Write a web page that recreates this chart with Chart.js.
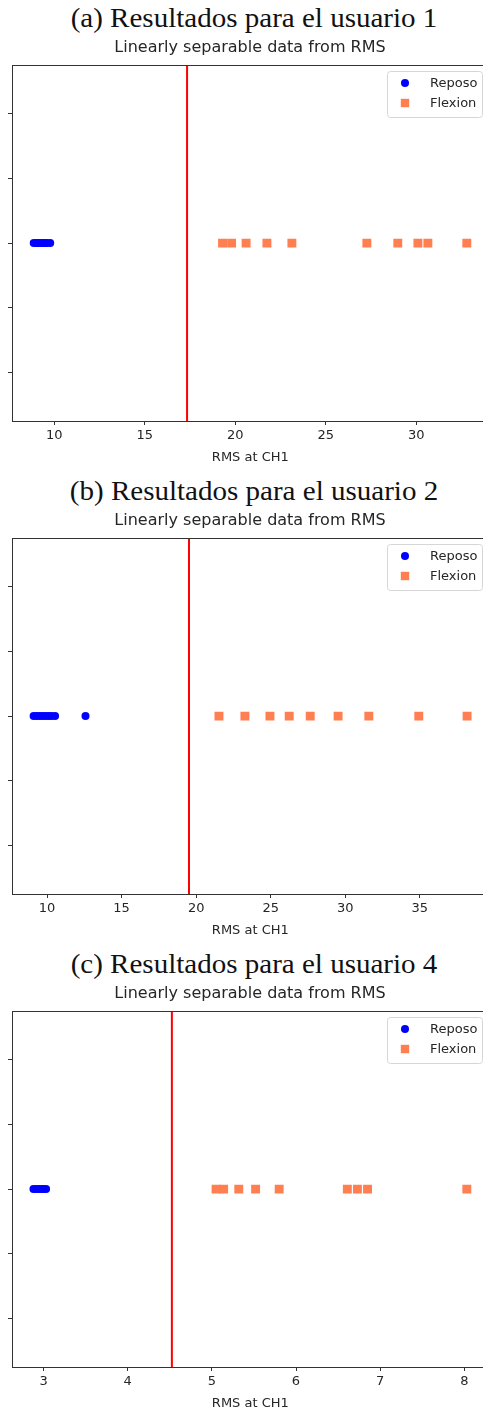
<!DOCTYPE html>
<html>
<head>
<meta charset="utf-8">
<script src="https://cdn.jsdelivr.net/npm/chart.js@4/dist/chart.umd.min.js"></script>
<style>
  html, body { margin: 0; padding: 0; background: #fff; overflow: hidden; width: 483px; height: 1411px; }
  .panel { position: absolute; left: 0; width: 483px; height: 473px; overflow: hidden; }
  .caption { position: absolute; left: 0; width: 508px; top: 3px; text-align: center;
    font-family: "Liberation Serif", serif; font-size: 27px; color: #111; line-height: 30px; white-space: nowrap;
    transform: scaleX(1.075); transform-origin: 254px 50%; }
  .wrap { position: absolute; left: 0; top: 30px; width: 483px; height: 443px; overflow: hidden; }
  canvas { display: block; }
</style>
</head>
<body>
<div class="panel" style="top:0px"><div class="caption">(a) Resultados para el usuario 1</div><div class="wrap" id="w1"></div></div>
<div class="panel" style="top:473px"><div class="caption">(b) Resultados para el usuario 2</div><div class="wrap" id="w2"></div></div>
<div class="panel" style="top:946px"><div class="caption">(c) Resultados para el usuario 4</div><div class="wrap" id="w3"></div></div>
<script>
// ---- Data ----
const plotTitle = "Linearly separable data from RMS";
const xLabel = "RMS at CH1";
const seriesNames = ["Reposo", "Flexion"];

// User 1
const reposo1 = [8.87, 9.0, 9.1, 9.2, 9.3, 9.4, 9.5, 9.6, 9.78];
const flexion1 = [19.3, 19.8, 20.6, 21.75, 23.13, 27.27, 28.98, 30.09, 30.64, 32.79];
const boundary1 = 17.34;
const xRange1 = [7.67, 34.0];
const xTicks1 = [10, 15, 20, 25, 30];

// User 2
const reposo2 = [9.1, 9.3, 9.5, 9.7, 9.9, 10.1, 10.3, 10.54, 12.58];
const flexion2 = [21.53, 23.27, 24.95, 26.24, 27.65, 29.52, 31.58, 34.93, 38.17];
const boundary2 = 19.52;
const xRange2 = [7.65, 39.62];
const xTicks2 = [10, 15, 20, 25, 30, 35];

// User 4
const reposo3 = [2.88, 2.91, 2.94, 2.97, 3.0, 3.03];
const flexion3 = [5.05, 5.14, 5.32, 5.52, 5.80, 6.61, 6.73, 6.85, 8.03];
const boundary3 = 4.525;
const xRange3 = [2.625, 8.29];
const xTicks3 = [3, 4, 5, 6, 7, 8];

const yRange = [-0.055, 0.055];
const yTicks = [-0.04, -0.02, 0, 0.02, 0.04];

// ---- Styles ----
const BLUE = '#0000ff';
const CORAL = '#ff7f50';
const SANS = '"DejaVu Sans", sans-serif';
const TXT = '#262626';
const SPINE = '#333333';
const AREA = { left: 12, right: 489, top: 35, bottom: 391 };
const CANVAS_H = 443;

const framePlugin = {
  id: 'frame',
  afterDatasetsDraw(chart) {
    const a = chart.chartArea, ctx = chart.ctx;
    ctx.save();
    ctx.strokeStyle = SPINE;
    ctx.lineWidth = 1;
    ctx.strokeRect(Math.round(a.left) + 0.5, Math.round(a.top) + 0.5, Math.round(a.right - a.left), Math.round(a.bottom - a.top));
    ctx.restore();
  },
  afterDraw(chart) {
    const a = chart.chartArea, ctx = chart.ctx;
    const w = 95, h = 46;
    const x0 = Math.round(a.right) - 7 - w, y0 = Math.round(a.top) + 6;
    ctx.save();
    ctx.beginPath();
    ctx.roundRect(x0 + 0.5, y0 + 0.5, w, h, 3);
    ctx.fillStyle = 'rgba(255,255,255,0.85)';
    ctx.fill();
    ctx.strokeStyle = '#d6d6d6';
    ctx.lineWidth = 1;
    ctx.stroke();
    const ds = chart.data.datasets.filter(d => d.inLegend);
    ds.forEach((d, i) => {
      const cy = y0 + 12 + i * 20, cx = x0 + 18;
      ctx.fillStyle = d.backgroundColor;
      ctx.beginPath();
      if (d.pointStyle === 'circle') { ctx.arc(cx, cy, 4, 0, Math.PI * 2); }
      else { ctx.rect(cx - 4.2, cy - 4.2, 8.4, 8.4); }
      ctx.fill();
      ctx.fillStyle = TXT;
      ctx.font = '13px ' + SANS;
      ctx.textBaseline = 'middle';
      ctx.textAlign = 'left';
      ctx.fillText(d.label, x0 + 43, cy + 0.5);
    });
    ctx.restore();
  }
};

function buildChart(wrap, width, pad, reposo, flexion, boundary, xRange, xTicks) {
  wrap.innerHTML = '';
  const cv = document.createElement('canvas');
  cv.width = width; cv.height = CANVAS_H;
  cv.style.width = width + 'px'; cv.style.height = CANVAS_H + 'px';
  wrap.appendChild(cv);
  return new Chart(cv, {
    type: 'scatter',
    data: {
      datasets: [
        { label: seriesNames[0], inLegend: true, data: reposo.map(v => ({ x: v, y: 0 })),
          pointStyle: 'circle', pointRadius: 4, pointHoverRadius: 4, borderWidth: 0,
          backgroundColor: BLUE, borderColor: BLUE },
        { label: seriesNames[1], inLegend: true, data: flexion.map(v => ({ x: v, y: 0 })),
          pointStyle: 'rect', pointRadius: 6.3, pointHoverRadius: 6.3, borderWidth: 0,
          backgroundColor: CORAL, borderColor: CORAL },
        { type: 'line', label: 'boundary', inLegend: false,
          data: [{ x: boundary, y: yRange[0] }, { x: boundary, y: yRange[1] }],
          borderColor: '#ff0000', backgroundColor: '#ff0000', borderWidth: 2, pointRadius: 0, showLine: true }
      ]
    },
    options: {
      responsive: false,
      animation: false,
      devicePixelRatio: 1,
      events: [],
      layout: { padding: pad },
      plugins: {
        legend: { display: false },
        tooltip: { enabled: false },
        title: { display: true, text: plotTitle, color: TXT,
          font: { family: SANS, size: 16, weight: 'normal' }, padding: { top: 8, bottom: 8 } }
      },
      scales: {
        x: {
          type: 'linear', min: xRange[0], max: xRange[1],
          afterBuildTicks: s => { s.ticks = xTicks.map(v => ({ value: v })); },
          ticks: { color: TXT, font: { family: SANS, size: 13 }, padding: 3, maxRotation: 0 },
          grid: { display: true, drawOnChartArea: false, drawTicks: true, tickLength: 4, color: SPINE },
          border: { display: false },
          title: { display: true, text: xLabel, color: TXT, font: { family: SANS, size: 13 }, padding: { top: 3, bottom: 0 } }
        },
        y: {
          type: 'linear', min: yRange[0], max: yRange[1],
          afterBuildTicks: s => { s.ticks = yTicks.map(v => ({ value: v })); },
          ticks: { display: false },
          grid: { display: true, drawOnChartArea: false, drawTicks: true, tickLength: 4, color: SPINE },
          border: { display: false }
        }
      }
    },
    plugins: [framePlugin]
  });
}

function makeChart(wrapId, reposo, flexion, boundary, xRange, xTicks) {
  const wrap = document.getElementById(wrapId);
  let width = 492;
  let pad = { left: 8, right: 3, top: 0, bottom: 9 };
  let chart = null;
  for (let k = 0; k < 4; k++) {
    chart = buildChart(wrap, width, pad, reposo, flexion, boundary, xRange, xTicks);
    const a = chart.chartArea;
    const dl = AREA.left - a.left, dr = AREA.right - a.right, dt = AREA.top - a.top, db = a.bottom - AREA.bottom;
    if (Math.abs(dl) < 0.5 && Math.abs(dr) < 0.5 && Math.abs(dt) < 0.5 && Math.abs(db) < 0.5) break;
    chart.destroy();
    pad = { left: Math.max(0, pad.left + dl), right: pad.right, top: Math.max(0, pad.top + dt), bottom: Math.max(0, pad.bottom + db) };
    width = Math.round(width + dr + dl);
  }
}

makeChart('w1', reposo1, flexion1, boundary1, xRange1, xTicks1);
makeChart('w2', reposo2, flexion2, boundary2, xRange2, xTicks2);
makeChart('w3', reposo3, flexion3, boundary3, xRange3, xTicks3);
</script>
</body>
</html>
